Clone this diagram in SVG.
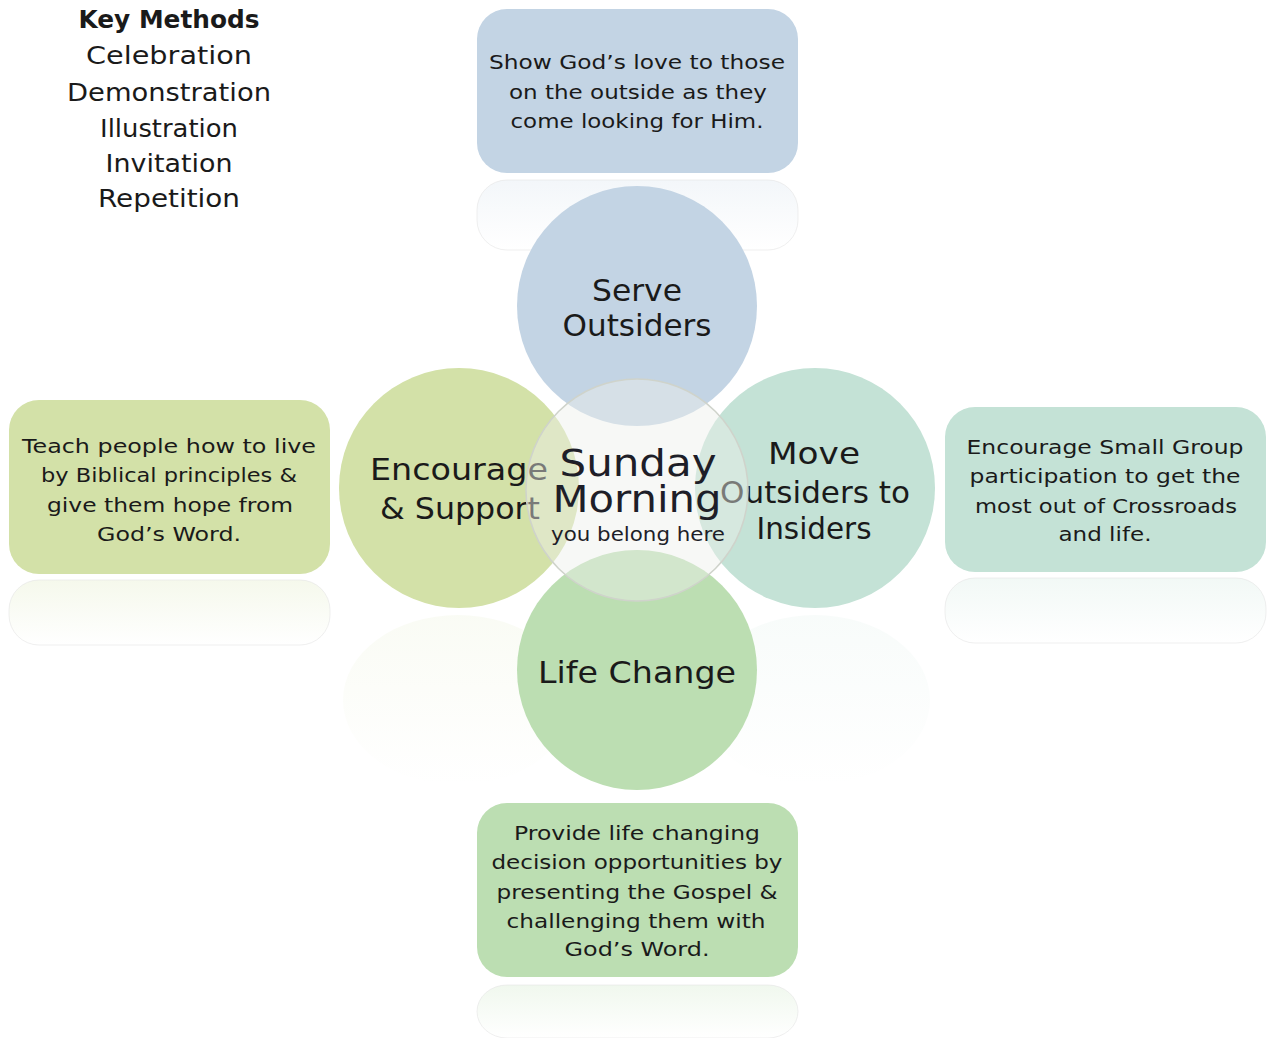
<svg xmlns="http://www.w3.org/2000/svg" width="1267" height="1038" viewBox="0 0 1267 1038">
<defs>
<style>
text{font-family:"DejaVu Sans","Liberation Sans",sans-serif;fill:#1a1a1a;text-anchor:middle}
.km{font-size:25px}
.kmb{font-size:24px;font-weight:bold}
.bx{font-size:19px}
.cl{font-size:30px}
.ct{font-size:38px;fill:#1e1e28}
.cs{font-size:19px;fill:#1e1e28}
.rf{stroke:#e4e4e4;stroke-opacity:0.6}
</style>
<linearGradient id="fadeG" x1="0" y1="0" x2="0" y2="1">
<stop offset="0" stop-color="#d3e1a8" stop-opacity="0.22"/>
<stop offset="1" stop-color="#d3e1a8" stop-opacity="0"/>
</linearGradient>
<linearGradient id="fadeM" x1="0" y1="0" x2="0" y2="1">
<stop offset="0" stop-color="#c4e2d6" stop-opacity="0.22"/>
<stop offset="1" stop-color="#c4e2d6" stop-opacity="0"/>
</linearGradient>
<linearGradient id="fadeB" x1="0" y1="0" x2="0" y2="1">
<stop offset="0" stop-color="#c3d4e4" stop-opacity="0.2"/>
<stop offset="1" stop-color="#c3d4e4" stop-opacity="0"/>
</linearGradient>
<linearGradient id="fadeL" x1="0" y1="0" x2="0" y2="1">
<stop offset="0" stop-color="#bcdeb2" stop-opacity="0.22"/>
<stop offset="1" stop-color="#bcdeb2" stop-opacity="0"/>
</linearGradient>
<linearGradient id="fadeC1" x1="0" y1="0" x2="0" y2="1">
<stop offset="0" stop-color="#d3e1a8" stop-opacity="0.12"/>
<stop offset="1" stop-color="#d3e1a8" stop-opacity="0"/>
</linearGradient>
<linearGradient id="fadeC2" x1="0" y1="0" x2="0" y2="1">
<stop offset="0" stop-color="#c4e2d6" stop-opacity="0.12"/>
<stop offset="1" stop-color="#c4e2d6" stop-opacity="0"/>
</linearGradient>
</defs>
<rect width="1267" height="1038" fill="#ffffff"/>

<g id="reflections">
<rect class="rf" x="477" y="180" width="321" height="70" rx="30" fill="url(#fadeB)"/>
<rect class="rf" x="9" y="580" width="321" height="65" rx="30" fill="url(#fadeG)"/>
<rect class="rf" x="945" y="578" width="321" height="65" rx="30" fill="url(#fadeM)"/>
<rect class="rf" x="477" y="985" width="321" height="53" rx="30" fill="url(#fadeL)"/>
<ellipse cx="458" cy="700" rx="115" ry="85" fill="url(#fadeC1)"/>
<ellipse cx="815" cy="700" rx="115" ry="85" fill="url(#fadeC2)"/>
</g>

<g id="key-methods">
<text class="kmb" x="169" y="28" textLength="181" lengthAdjust="spacingAndGlyphs">Key Methods</text>
<text class="km" x="169" y="64" textLength="166" lengthAdjust="spacingAndGlyphs">Celebration</text>
<text class="km" x="169" y="101" textLength="204" lengthAdjust="spacingAndGlyphs">Demonstration</text>
<text class="km" x="169" y="137" textLength="138" lengthAdjust="spacingAndGlyphs">Illustration</text>
<text class="km" x="169" y="172" textLength="127" lengthAdjust="spacingAndGlyphs">Invitation</text>
<text class="km" x="169" y="207" textLength="142" lengthAdjust="spacingAndGlyphs">Repetition</text>
</g>

<g id="box-top">
<rect x="477" y="9" width="321" height="164" rx="30" fill="#c3d4e4"/>
<text class="bx" x="637" y="69" textLength="296" lengthAdjust="spacingAndGlyphs">Show God’s love to those</text>
<text class="bx" x="638" y="99" textLength="258" lengthAdjust="spacingAndGlyphs">on the outside as they</text>
<text class="bx" x="637" y="128" textLength="253" lengthAdjust="spacingAndGlyphs">come looking for Him.</text>
</g>

<g id="box-left">
<rect x="9" y="400" width="321" height="174" rx="30" fill="#d3e1a8"/>
<text class="bx" x="169" y="453" textLength="294" lengthAdjust="spacingAndGlyphs">Teach people how to live</text>
<text class="bx" x="169" y="482" textLength="256" lengthAdjust="spacingAndGlyphs">by Biblical principles &amp;</text>
<text class="bx" x="170" y="512" textLength="246" lengthAdjust="spacingAndGlyphs">give them hope from</text>
<text class="bx" x="169" y="541" textLength="144" lengthAdjust="spacingAndGlyphs">God’s Word.</text>
</g>

<g id="box-right">
<rect x="945" y="407" width="321" height="165" rx="30" fill="#c4e2d6"/>
<text class="bx" x="1105" y="454" textLength="277" lengthAdjust="spacingAndGlyphs">Encourage Small Group</text>
<text class="bx" x="1105" y="483" textLength="271" lengthAdjust="spacingAndGlyphs">participation to get the</text>
<text class="bx" x="1106" y="513" textLength="262" lengthAdjust="spacingAndGlyphs">most out of Crossroads</text>
<text class="bx" x="1105" y="541" textLength="93" lengthAdjust="spacingAndGlyphs">and life.</text>
</g>

<g id="box-bottom">
<rect x="477" y="803" width="321" height="174" rx="30" fill="#bcdeb2"/>
<text class="bx" x="637" y="840" textLength="246" lengthAdjust="spacingAndGlyphs">Provide life changing</text>
<text class="bx" x="637" y="869" textLength="291" lengthAdjust="spacingAndGlyphs">decision opportunities by</text>
<text class="bx" x="637" y="899" textLength="281" lengthAdjust="spacingAndGlyphs">presenting the Gospel &amp;</text>
<text class="bx" x="636" y="928" textLength="259" lengthAdjust="spacingAndGlyphs">challenging them with</text>
<text class="bx" x="637" y="956" textLength="145" lengthAdjust="spacingAndGlyphs">God’s Word.</text>
</g>

<g id="circle-serve">
<circle cx="637" cy="306" r="120" fill="#c3d4e4"/>
<text class="cl" x="637" y="301" textLength="90" lengthAdjust="spacingAndGlyphs">Serve</text>
<text class="cl" x="637" y="336" textLength="149" lengthAdjust="spacingAndGlyphs">Outsiders</text>
</g>

<g id="circle-encourage">
<circle cx="459" cy="488" r="120" fill="#d3e1a8"/>
<text class="cl" x="459" y="480" textLength="178" lengthAdjust="spacingAndGlyphs">Encourage</text>
<text class="cl" x="460" y="519" textLength="160" lengthAdjust="spacingAndGlyphs">&amp; Support</text>
</g>

<g id="circle-move">
<circle cx="815" cy="488" r="120" fill="#c4e2d6"/>
<text class="cl" x="814" y="464" textLength="92" lengthAdjust="spacingAndGlyphs">Move</text>
<text class="cl" x="815" y="503" textLength="190" lengthAdjust="spacingAndGlyphs">Outsiders to</text>
<text class="cl" x="814" y="539" textLength="115" lengthAdjust="spacingAndGlyphs">Insiders</text>
</g>

<g id="circle-life">
<circle cx="637" cy="670" r="120" fill="#bcdeb2"/>
<text class="cl" x="637" y="683" textLength="198" lengthAdjust="spacingAndGlyphs">Life Change</text>
</g>

<g id="circle-center">
<circle cx="637" cy="490" r="111" fill="#eef0ea" fill-opacity="0.45" stroke="#cfd3cb" stroke-width="1.5"/>
<text class="ct" x="638" y="476" textLength="157" lengthAdjust="spacingAndGlyphs">Sunday</text>
<text class="ct" x="637" y="512" textLength="169" lengthAdjust="spacingAndGlyphs">Morning</text>
<text class="cs" x="638" y="541" textLength="174" lengthAdjust="spacingAndGlyphs">you belong here</text>
</g>

<g id="connectors"></g>
</svg>
